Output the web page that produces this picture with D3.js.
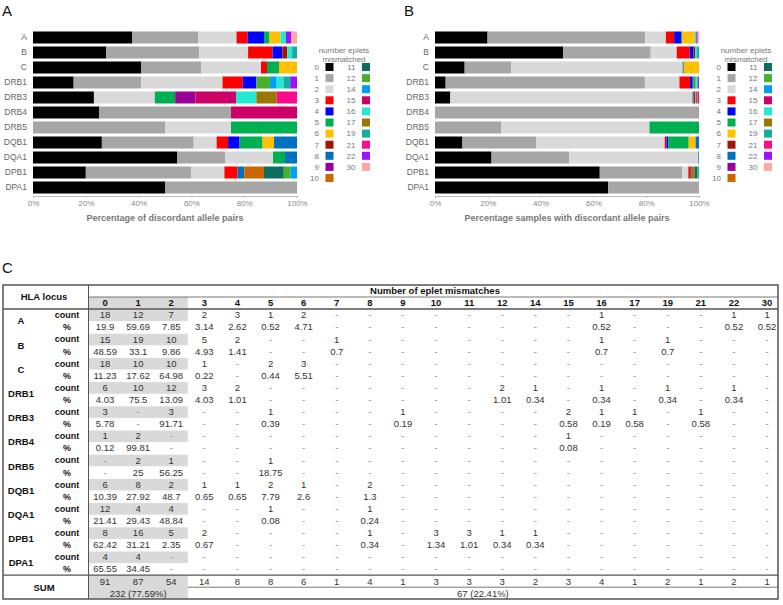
<!DOCTYPE html>
<html lang="en">
<head>
<meta charset="utf-8">
<title>Eplet mismatches per HLA locus</title>
<style>
  body { margin: 0; background: #fff; }
  svg { display: block; font-family: "Liberation Sans", Arial, sans-serif; }
  .axis .tick text { fill: #888; font-size: 8px; }
  .axis .tick line, .axis .domain { stroke: #bbb; }
  .cat { fill: #666; font-size: 8.5px; }
  .leg { fill: #777; font-size: 8px; }
  .xtitle { fill: #777; font-size: 9px; font-weight: bold; }
  .letter { font-size: 15px; fill: #111; }
  .cell { font-size: 9.5px; fill: #333; }
  .dash { font-size: 9.5px; fill: #888; }
  .hdr { font-size: 9.5px; font-weight: bold; fill: #111; }
</style>
</head>
<body>
<svg width="783" height="605"></svg>
<script src="https://d3js.org/d3.v7.min.js"></script>
<script>
  const loci = ["A", "B", "C", "DRB1", "DRB3", "DRB4", "DRB5", "DQB1", "DQA1", "DPB1", "DPA1"];
  const mismatches = [0, 1, 2, 3, 4, 5, 6, 7, 8, 9, 10, 11, 12, 14, 15, 16, 17, 19, 21, 22, 30];
  const colors = ["#000000", "#a6a6a6", "#d9d9d9", "#ff0000", "#0000ff", "#00b050", "#ffc000",
    "#a5140a", "#0070c0", "#990099", "#cc6600", "#0b6e5f", "#4caf2b", "#00a0f0", "#cc0066",
    "#22e8d4", "#9a7800", "#16ad9c", "#ff0a8c", "#9a10ff", "#ffa8a0"];

  const _ = null; // "-" in the table
  // number of discordant allele pairs, one row per locus, one column per mismatch count
  const counts = [
    [18, 12, 7, 2, 3, 1, 2, _, _, _, _, _, _, _, _, 1, _, _, _, 1, 1],
    [15, 19, 10, 5, 2, _, _, 1, _, _, _, _, _, _, _, 1, _, 1, _, _, _],
    [18, 10, 10, 1, _, 2, 3, _, _, _, _, _, _, _, _, _, _, _, _, _, _],
    [6, 10, 12, 3, 2, _, _, _, _, _, _, _, 2, 1, _, 1, _, 1, _, 1, _],
    [3, _, 3, _, _, 1, _, _, _, 1, _, _, _, _, 2, 1, 1, _, 1, _, _],
    [1, 2, _, _, _, _, _, _, _, _, _, _, _, _, 1, _, _, _, _, _, _],
    [_, 2, 1, _, _, 1, _, _, _, _, _, _, _, _, _, _, _, _, _, _, _],
    [6, 8, 2, 1, 1, 2, 1, _, 2, _, _, _, _, _, _, _, _, _, _, _, _],
    [12, 4, 4, _, _, 1, _, _, 1, _, _, _, _, _, _, _, _, _, _, _, _],
    [8, 16, 5, 2, _, _, _, _, 1, _, 3, 3, 1, 1, _, _, _, _, _, _, _],
    [4, 4, _, _, _, _, _, _, _, _, _, _, _, _, _, _, _, _, _, _, _]
  ];
  // percentage of samples
  const percents = [
    [19.9, 59.69, 7.85, 3.14, 2.62, 0.52, 4.71, _, _, _, _, _, _, _, _, 0.52, _, _, _, 0.52, 0.52],
    [48.59, 33.1, 9.86, 4.93, 1.41, _, _, 0.7, _, _, _, _, _, _, _, 0.7, _, 0.7, _, _, _],
    [11.23, 17.62, 64.98, 0.22, _, 0.44, 5.51, _, _, _, _, _, _, _, _, _, _, _, _, _, _],
    [4.03, 75.5, 13.09, 4.03, 1.01, _, _, _, _, _, _, _, 1.01, 0.34, _, 0.34, _, 0.34, _, 0.34, _],
    [5.78, _, 91.71, _, _, 0.39, _, _, _, 0.19, _, _, _, _, 0.58, 0.19, 0.58, _, 0.58, _, _],
    [0.12, 99.81, _, _, _, _, _, _, _, _, _, _, _, _, 0.08, _, _, _, _, _, _],
    [_, 25, 56.25, _, _, 18.75, _, _, _, _, _, _, _, _, _, _, _, _, _, _, _],
    [10.39, 27.92, 48.7, 0.65, 0.65, 7.79, 2.6, _, 1.3, _, _, _, _, _, _, _, _, _, _, _, _],
    [21.41, 29.43, 48.84, _, _, 0.08, _, _, 0.24, _, _, _, _, _, _, _, _, _, _, _, _],
    [62.42, 31.21, 2.35, 0.67, _, _, _, _, 0.34, _, 1.34, 1.01, 0.34, 0.34, _, _, _, _, _, _, _],
    [65.55, 34.45, _, _, _, _, _, _, _, _, _, _, _, _, _, _, _, _, _, _, _]
  ];
  const sums = [91, 87, 54, 14, 8, 8, 6, 1, 4, 1, 3, 3, 3, 2, 3, 4, 1, 2, 1, 2, 1];
  const totals = ["232 (77.59%)", "67 (22.41%)"];
  const xTitles = ["Percentage of discordant allele pairs", "Percentage samples with discordant allele pairs"];

  const svg = d3.select("svg");
  svg.append("rect").attr("width", 783).attr("height", 605).attr("fill", "#fff");

  const color = d3.scaleOrdinal().domain(mismatches).range(colors);
  const keys = mismatches.map(String);

  function drawPanel(table, letter, dx, title) {
    const rows = loci.map((l, i) => {
      const o = {locus: l};
      mismatches.forEach((m, j) => o[m] = table[i][j] || 0);
      return o;
    });
    const series = d3.stack().keys(keys).offset(d3.stackOffsetExpand)(rows);

    const g = svg.append("g").attr("transform", `translate(${dx},0)`);
    const x = d3.scaleLinear().domain([0, 1]).range([33, 297]);
    const y = d3.scaleBand().domain(loci).range([30, 195]).paddingInner(0.2).paddingOuter(0.1);

    g.append("text").attr("class", "letter").attr("x", 2).attr("y", 16).text(letter);

    g.append("g").selectAll("g")
      .data(series)
      .join("g")
      .attr("fill", d => color(+d.key))
      .selectAll("rect")
      .data(d => d)
      .join("rect")
      .attr("x", d => x(d[0]))
      .attr("y", d => y(d.data.locus))
      .attr("width", d => Math.max(0, x(d[1]) - x(d[0])))
      .attr("height", y.bandwidth());

    g.append("g").selectAll("text")
      .data(loci)
      .join("text")
      .attr("class", "cat")
      .attr("x", 27)
      .attr("y", d => y(d) + y.bandwidth() / 2)
      .attr("dy", "0.35em")
      .attr("text-anchor", "end")
      .text(d => d);

    g.append("g")
      .attr("class", "axis")
      .attr("transform", "translate(0,196)")
      .call(d3.axisBottom(x).tickValues([0, .2, .4, .6, .8, 1]).tickFormat(d3.format(".0%")).tickSize(2).tickPadding(2));

    g.append("text").attr("class", "xtitle")
      .attr("x", (x(0) + x(1)) / 2).attr("y", 221)
      .attr("text-anchor", "middle").text(title);

    // legend
    const lg = g.append("g");
    lg.append("text").attr("class", "leg").attr("x", 344).attr("y", 53).attr("text-anchor", "middle").text("number eplets");
    lg.append("text").attr("class", "leg").attr("x", 344).attr("y", 62).attr("text-anchor", "middle").text("mismatched");
    const item = lg.selectAll("g.item")
      .data(mismatches)
      .join("g")
      .attr("class", "item")
      .attr("transform", (d, i) => `translate(${i < 11 ? 319 : 355.5},${67 + 11.1 * (i < 11 ? i : i - 11)})`);
    item.append("text").attr("class", "leg").attr("x", 0).attr("dy", "0.35em").attr("text-anchor", "end").text(d => d);
    item.append("rect").attr("x", 6.5).attr("y", -4).attr("width", 8).attr("height", 8).attr("fill", d => color(d));
  }

  drawPanel(counts, "A", 0, xTitles[0]);
  drawPanel(percents, "B", 402, xTitles[1]);

  // ---- panel C: table ----
  const tTop = 285, tBottom = 599, tLeft = 3, tRight = 778;
  const divX = 88.5;
  const col = d3.scaleBand().domain(mismatches).range([divX, divX + 21 * 33.1]);
  const row = d3.scaleBand().domain(d3.range(22)).range([309, 575.2]);
  const rh = row.bandwidth();
  const grayRight = col(2) + col.bandwidth();

  svg.append("text").attr("class", "letter").attr("x", 2).attr("y", 273).text("C");

  const t = svg.append("g");

  // grey blocks for columns 0-2
  t.append("rect").attr("x", divX).attr("y", 297).attr("width", grayRight - divX).attr("height", 12).attr("fill", "#d9d9d9");
  t.selectAll("rect.cnt")
    .data(d3.range(0, 22, 2))
    .join("rect")
    .attr("class", "cnt")
    .attr("x", divX).attr("y", d => row(d) + 0.5)
    .attr("width", grayRight - divX).attr("height", rh - 0.5)
    .attr("fill", "#d9d9d9");
  t.append("rect").attr("x", divX).attr("y", 575.2).attr("width", grayRight - divX).attr("height", tBottom - 575.2).attr("fill", "#d9d9d9");

  // rules
  const line = (x1, y1, x2, y2, w) => t.append("line")
    .attr("x1", x1).attr("y1", y1).attr("x2", x2).attr("y2", y2)
    .attr("stroke", "#555").attr("stroke-width", w);
  line(divX, 297, tRight, 297, 0.8);
  line(tLeft, 309, tRight, 309, 1.3);
  line(tLeft, 575.2, tRight, 575.2, 1.3);
  line(grayRight, 587.2, tRight, 587.2, 0.8);
  line(divX, tTop, divX, tBottom, 1);
  t.append("rect").attr("x", tLeft).attr("y", tTop).attr("width", tRight - tLeft).attr("height", tBottom - tTop)
    .attr("fill", "none").attr("stroke", "#555").attr("stroke-width", 1.5);

  // headers
  t.append("text").attr("class", "hdr").attr("x", 44).attr("y", 297).attr("dy", "0.35em").attr("text-anchor", "middle").text("HLA locus");
  t.append("text").attr("class", "hdr").attr("x", 435).attr("y", 291).attr("dy", "0.35em").attr("text-anchor", "middle").text("Number of eplet mismatches");
  t.selectAll("text.colh")
    .data(mismatches)
    .join("text")
    .attr("class", "hdr colh")
    .attr("x", d => col(d) + col.bandwidth() / 2)
    .attr("y", 303).attr("dy", "0.35em").attr("text-anchor", "middle")
    .text(d => d);

  // row labels
  t.selectAll("text.locus")
    .data(loci)
    .join("text")
    .attr("class", "hdr locus")
    .attr("x", 21).attr("y", (d, i) => row(2 * i) + rh)
    .attr("dy", "0.35em").attr("text-anchor", "middle")
    .text(d => d);
  t.selectAll("text.kind")
    .data(d3.range(22))
    .join("text")
    .attr("class", "hdr kind")
    .style("font-size", "9px")
    .attr("x", 67).attr("y", d => row(d) + rh / 2)
    .attr("dy", "0.35em").attr("text-anchor", "middle")
    .text(d => d % 2 === 0 ? "count" : "%");

  // body cells
  const cells = [];
  loci.forEach((l, i) => {
    mismatches.forEach((m, j) => {
      cells.push({r: 2 * i, m: m, v: counts[i][j]});
      cells.push({r: 2 * i + 1, m: m, v: percents[i][j]});
    });
  });
  t.selectAll("text.cell")
    .data(cells)
    .join("text")
    .attr("class", d => d.v === null ? "dash" : "cell")
    .attr("x", d => col(d.m) + col.bandwidth() / 2)
    .attr("y", d => row(d.r) + rh / 2)
    .attr("dy", "0.35em").attr("text-anchor", "middle")
    .text(d => d.v === null ? "-" : d.v);

  // sums
  t.append("text").attr("class", "hdr").attr("x", 44).attr("y", 587.2).attr("dy", "0.35em").attr("text-anchor", "middle").text("SUM");
  t.selectAll("text.sum")
    .data(sums)
    .join("text")
    .attr("class", "cell sum")
    .attr("x", (d, i) => col(mismatches[i]) + col.bandwidth() / 2)
    .attr("y", 581.2).attr("dy", "0.35em").attr("text-anchor", "middle")
    .text(d => d);
  t.append("text").attr("class", "cell").attr("x", (divX + grayRight) / 2).attr("y", 593.2)
    .attr("dy", "0.35em").attr("text-anchor", "middle").text(totals[0]);
  t.append("text").attr("class", "cell").attr("x", (grayRight + tRight) / 2).attr("y", 593.2)
    .attr("dy", "0.35em").attr("text-anchor", "middle").text(totals[1]);
</script>
</body>
</html>
